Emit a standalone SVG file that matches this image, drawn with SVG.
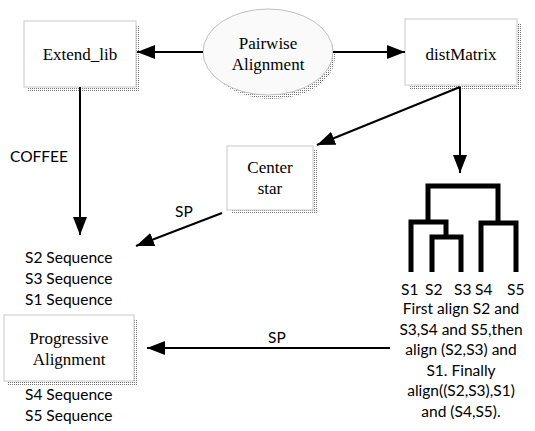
<svg xmlns="http://www.w3.org/2000/svg" width="535" height="431" viewBox="0 0 535 431">
<defs>
<pattern id="dots" width="2" height="2" patternUnits="userSpaceOnUse">
<rect x="0" y="0" width="1" height="1" fill="#777"/>
</pattern>
<marker id="arr" markerWidth="18" markerHeight="14" refX="18" refY="7" orient="auto" markerUnits="userSpaceOnUse">
<path d="M0,0 L18,7 L0,14 Z" fill="#000"/>
</marker>
</defs>
<style>
.box{fill:#fff;stroke:#c8c8c8;stroke-width:1}
.shadow{fill:url(#dots)}
.serif{font-family:"Liberation Serif","Times New Roman",serif;font-size:17px;fill:#000;text-anchor:middle}
.sans{font-family:Lato,"Liberation Sans",sans-serif;font-size:15.5px;fill:#000}
.mid{text-anchor:middle}
.edge{stroke:#000;stroke-width:2;fill:none}
.tree{stroke:#000;stroke-width:5;fill:none;stroke-linejoin:miter}
</style>
<rect width="535" height="431" fill="#fff"/>

<g id="extend_lib">
<rect class="shadow" x="28" y="25" width="112" height="66"/>
<rect class="box" x="24" y="21" width="112" height="66"/>
<text class="serif" x="80" y="60">Extend_lib</text>
</g>

<g id="pairwise">
<ellipse class="shadow" cx="272" cy="57" rx="63" ry="42"/>
<ellipse cx="268" cy="52" rx="65" ry="43" fill="#fafafa" stroke="#c0c0c0" stroke-width="1"/>
<text class="serif" x="268" y="49">Pairwise</text>
<text class="serif" x="268" y="70">Alignment</text>
</g>

<g id="distmatrix">
<rect class="shadow" x="409" y="23" width="112" height="66"/>
<rect class="box" x="405" y="19" width="112" height="66"/>
<text class="serif" x="461" y="60">distMatrix</text>
</g>

<g id="center_star">
<rect class="shadow" x="231" y="150" width="86" height="64"/>
<rect class="box" x="227" y="146" width="86" height="64"/>
<text class="serif" x="270" y="173">Center</text>
<text class="serif" x="270" y="194">star</text>
</g>

<g id="progressive">
<rect class="shadow" x="8" y="319" width="130" height="66"/>
<rect class="box" x="4" y="315" width="130" height="66"/>
<text class="serif" x="69" y="344">Progressive</text>
<text class="serif" x="69" y="365">Alignment</text>
</g>

<g id="sequences">
<text class="sans" x="25" y="263">S2 Sequence</text>
<text class="sans" x="25" y="284">S3 Sequence</text>
<text class="sans" x="25" y="305">S1 Sequence</text>
<text class="sans" x="25" y="400">S4 Sequence</text>
<text class="sans" x="25" y="421">S5 Sequence</text>
</g>

<g id="tree">
<path class="tree" d="M428,222 V186 H498 V223"/>
<path class="tree" d="M411,272 V222 H446 V237"/>
<path class="tree" d="M432,272 V237 H461 V272"/>
<path class="tree" d="M481,272 V223 H516 V272"/>
<text class="sans" x="401" y="295">S1</text>
<text class="sans" x="425" y="295">S2</text>
<text class="sans" x="454" y="295">S3</text>
<text class="sans" x="475" y="295">S4</text>
<text class="sans" x="507" y="295">S5</text>
</g>

<g id="explanation">
<text class="sans mid" x="461" y="314">First align S2 and</text>
<text class="sans mid" x="461" y="335">S3,S4 and S5,then</text>
<text class="sans mid" x="461" y="355">align (S2,S3) and</text>
<text class="sans mid" x="461" y="376">S1. Finally</text>
<text class="sans mid" x="461" y="396">align((S2,S3),S1)</text>
<text class="sans mid" x="461" y="417">and (S4,S5).</text>
</g>

<g id="connectors">
<line class="edge" x1="203" y1="52" x2="137" y2="52" marker-end="url(#arr)"/>
<line class="edge" x1="333" y1="52" x2="405" y2="52" marker-end="url(#arr)"/>
<line class="edge" x1="80" y1="87" x2="80" y2="235" marker-end="url(#arr)"/>
<line class="edge" x1="460" y1="87" x2="317" y2="145" marker-end="url(#arr)"/>
<line class="edge" x1="460" y1="87" x2="460" y2="173" marker-end="url(#arr)"/>
<line class="edge" x1="222" y1="213" x2="136" y2="246" marker-end="url(#arr)"/>
<line class="edge" x1="390" y1="348" x2="147" y2="348" marker-end="url(#arr)"/>
<text class="sans" x="10" y="162">COFFEE</text>
<text class="sans" x="175" y="217">SP</text>
<text class="sans" x="268" y="343">SP</text>
</g>
</svg>
